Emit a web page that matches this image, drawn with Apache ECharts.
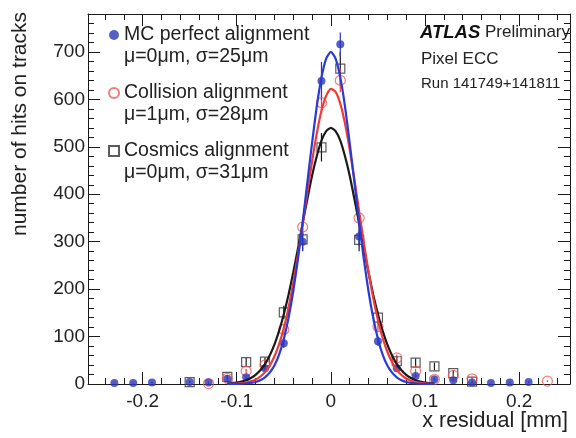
<!DOCTYPE html>
<html>
<head>
<meta charset="utf-8">
<script src="https://cdn.jsdelivr.net/npm/echarts@6/dist/echarts.min.js"></script>
<style>
html, body { margin: 0; padding: 0; background: #fff; }
#chart { width: 576px; height: 438px; }
</style>
</head>
<body>
<div id="chart"></div>
<script>
// histogram bin centres [mm]
var binCenters = [-0.23, -0.21, -0.19, -0.17, -0.15, -0.13, -0.11, -0.09, -0.07, -0.05, -0.03, -0.01,
                  0.01, 0.03, 0.05, 0.07, 0.09, 0.11, 0.13, 0.15, 0.17, 0.19, 0.21, 0.23];

// MC perfect alignment
var mcVals = [2, 2, 3, null, 4, 3, 11, 14, 33, 86, 300, 639, 716, 311, 90, 33, 17, 10, 8, 3, 2, 3, 4, null];
var mcErr  = [1, 1, 2, null, 2, 2, 4, 4, 6, 10, 20, 40, 25, 20, 10, 6, 4, 3, 3, 2, 1, 2, 2, null];
// Collision alignment
var collVals = [null, null, null, null, null, 1, 12, 27, 40, 115, 331, 593, 640, 350, 121, 55, 27, 10, 18, 11, null, null, null, 6];
var collErr  = [null, null, null, null, null, 1, 4, 5, 6, 11, 18, 24, 25, 19, 11, 7, 5, 3, 4, 3, null, null, null, 2];
// Cosmics alignment
var cosmVals = [null, null, null, null, 4, null, 15, 46, 47, 151, 305, 499, 665, 304, 140, 48, 45, 37, 23, 5, null, null, null, null];
var cosmErr  = [null, null, null, null, 2, null, 4, 9, 9, 14, 24, 30, 35, 24, 13, 9, 9, 8, 6, 2, null, null, null, null];

// gaussian fit curves
var curveX = [-0.11, -0.105, -0.1, -0.095, -0.09, -0.085, -0.08, -0.075, -0.07, -0.065, -0.06, -0.055,
              -0.05, -0.045, -0.04, -0.035, -0.03, -0.025, -0.02, -0.015, -0.01, -0.005, 0,
              0.005, 0.01, 0.015, 0.02, 0.025, 0.03, 0.035, 0.04, 0.045, 0.05, 0.055, 0.06,
              0.065, 0.07, 0.075, 0.08, 0.085, 0.09, 0.095, 0.1, 0.105, 0.11];
var mcFit = [0.04, 0.1, 0.2, 0.5, 1.1, 2.2, 4.2, 7.8, 14, 24, 39, 62, 95, 139, 195, 263, 341, 425, 508, 585, 646, 686, 700,
             686, 646, 585, 508, 425, 341, 263, 195, 139, 95, 62, 39, 24, 14, 7.8, 4.2, 2.2, 1.1, 0.5, 0.2, 0.1, 0.04];
var collFit = [0.24, 0.48, 0.93, 1.7, 3.2, 5.6, 9.5, 15.6, 25, 38.7, 58, 84, 118, 161, 213, 272, 337, 404, 469, 528, 576, 608, 622,
               616, 591, 549, 494, 431, 364, 298, 236, 181, 135, 97, 68, 46, 30, 19, 11.6, 6.9, 4.0, 2.2, 1.2, 0.63, 0.32];
var cosmFit = [1.0, 1.7, 3.0, 4.9, 8.0, 12.6, 19.3, 29, 42, 60, 83, 112, 147, 188, 235, 285, 338, 390, 439, 480, 513, 533, 540,
               533, 513, 480, 439, 390, 338, 285, 235, 188, 147, 112, 83, 60, 42, 29, 19.3, 12.6, 8.0, 4.9, 3.0, 1.7, 1.0];

// tick values
var xMajor = [-0.2, -0.1, 0, 0.1, 0.2];
var yMajor = [0, 100, 200, 300, 400, 500, 600, 700];
var xMinor = [];
for (var i = -13; i <= 12; i++) xMinor.push(Math.round(i * 2) / 100);
var yMinor = [];
for (var j = 0; j <= 39; j++) yMinor.push(j * 20);

var FONT = 'Liberation Sans, Arial, sans-serif';
var BLUE = '#2a37b8';
var RED = '#f03a3a';
var BLACK = '#1a1a1a';

function points(vals, errs) {
    var out = [];
    binCenters.forEach(function (x, i) {
        if (vals[i] != null) out.push([x, vals[i], errs[i]]);
    });
    return out;
}
function curve(vals) {
    return curveX.map(function (x, i) { return [x, vals[i]]; });
}

function errorBar(color) {
    return function (params, api) {
        var x = api.value(0), y = api.value(1), e = api.value(2);
        var p1 = api.coord([x, y + e]);
        var p2 = api.coord([x, Math.max(y - e, 0)]);
        return {
            type: 'line',
            shape: { x1: p1[0], y1: p1[1], x2: p2[0], y2: p2[1] },
            style: { stroke: color, lineWidth: 1.2 }
        };
    };
}

var dom = document.getElementById('chart');
var myChart = echarts.init(dom, null, { renderer: 'canvas' });

var gridBox = { left: 88, right: 6, top: 14, bottom: 54 };
var X_MIN = -0.258, X_MAX = 0.254, Y_MIN = 0, Y_MAX = 780;

function xAx(grid, pos, ticks, len, line, labels) {
    return {
        type: 'value', gridIndex: grid, position: pos, min: X_MIN, max: X_MAX,
        axisLine: { show: line, onZero: false, lineStyle: { color: BLACK, width: 1 } },
        axisTick: { show: true, inside: true, length: len, customValues: ticks, lineStyle: { color: BLACK, width: 1 } },
        axisLabel: { show: labels, customValues: xMajor, color: '#222', fontSize: 19, fontFamily: FONT, margin: 8 },
        splitLine: { show: false }
    };
}
function yAx(grid, pos, ticks, len, line, labels) {
    return {
        type: 'value', gridIndex: grid, position: pos, min: Y_MIN, max: Y_MAX,
        axisLine: { show: line, onZero: false, lineStyle: { color: BLACK, width: 1 } },
        axisTick: { show: true, inside: true, length: len, customValues: ticks, lineStyle: { color: BLACK, width: 1 } },
        axisLabel: { show: labels, customValues: yMajor, color: '#222', fontSize: 19, fontFamily: FONT, margin: 3 },
        splitLine: { show: false }
    };
}

var option = {
    animation: false,
    backgroundColor: '#fff',
    grid: [gridBox, gridBox],
    xAxis: [
        xAx(0, 'bottom', xMajor, 12, true, true),
        xAx(0, 'top', xMajor, 12, true, false),
        xAx(1, 'bottom', xMinor, 6, false, false),
        xAx(1, 'top', xMinor, 6, false, false)
    ],
    yAxis: [
        yAx(0, 'left', yMajor, 12, true, true),
        yAx(0, 'right', yMajor, 12, true, false),
        yAx(1, 'left', yMinor, 6, false, false),
        yAx(1, 'right', yMinor, 6, false, false)
    ],
    legend: {
        orient: 'vertical',
        left: 103,
        top: 20,
        itemWidth: 10,
        itemHeight: 10,
        itemGap: 38,
        selectedMode: false,
        textStyle: { fontSize: 19.5, color: '#222', fontFamily: FONT },
        data: ['MC perfect alignment', 'Collision alignment', 'Cosmics alignment']
    },
    graphic: [
        { type: 'text', x: 20, y: 124, rotation: Math.PI / 2,
          style: { text: 'number of hits on tracks', fill: '#222', font: '21px ' + FONT, align: 'center', verticalAlign: 'middle' } },
        { type: 'text', right: 8, top: 410,
          style: { text: 'x residual [mm]', fill: '#222', font: '21.5px ' + FONT } },
        { type: 'text', left: 124, top: 47,
          style: { text: 'μ=0μm, σ=25μm', fill: '#222', font: '19.5px ' + FONT } },
        { type: 'text', left: 124, top: 105,
          style: { text: 'μ=1μm, σ=28μm', fill: '#222', font: '19.5px ' + FONT } },
        { type: 'text', left: 124, top: 163,
          style: { text: 'μ=0μm, σ=31μm', fill: '#222', font: '19.5px ' + FONT } },
        { type: 'text', left: 420, top: 23,
          style: { text: '{b|ATLAS} Preliminary', fill: '#222', font: '17px ' + FONT,
                   rich: { b: { fontWeight: 'bold', fontStyle: 'italic', fontSize: 18.5, fontFamily: FONT, fill: '#111' } } } },
        { type: 'text', left: 421, top: 51,
          style: { text: 'Pixel ECC', fill: '#222', font: '17px ' + FONT } },
        { type: 'text', left: 421, top: 76,
          style: { text: 'Run 141749+141811', fill: '#222', font: '15px ' + FONT } }
    ],
    series: [
        { type: 'custom', xAxisIndex: 0, yAxisIndex: 0, renderItem: errorBar(BLACK), data: points(cosmVals, cosmErr), z: 2 },
        { type: 'custom', xAxisIndex: 0, yAxisIndex: 0, renderItem: errorBar(RED), data: points(collVals, collErr), z: 2 },
        { type: 'custom', xAxisIndex: 0, yAxisIndex: 0, renderItem: errorBar(BLUE), data: points(mcVals, mcErr), z: 2 },
        {
            name: 'Cosmics alignment', type: 'scatter', xAxisIndex: 0, yAxisIndex: 0,
            symbol: 'rect', symbolSize: 9,
            itemStyle: { color: 'rgba(255,255,255,0)', borderColor: '#333', borderWidth: 1.2 },
            data: points(cosmVals, cosmErr), z: 3
        },
        {
            name: 'Collision alignment', type: 'scatter', xAxisIndex: 0, yAxisIndex: 0,
            symbol: 'circle', symbolSize: 10,
            itemStyle: { color: 'rgba(255,255,255,0)', borderColor: '#f25a5a', borderWidth: 1.2 },
            data: points(collVals, collErr), z: 3
        },
        {
            name: 'MC perfect alignment', type: 'scatter', xAxisIndex: 0, yAxisIndex: 0,
            symbol: 'circle', symbolSize: 8,
            itemStyle: { color: BLUE },
            data: points(mcVals, mcErr), z: 3
        },
        { type: 'line', xAxisIndex: 0, yAxisIndex: 0, data: curve(cosmFit), showSymbol: false, smooth: 0.2,
          lineStyle: { color: BLACK, width: 2.2 }, z: 4 },
        { type: 'line', xAxisIndex: 0, yAxisIndex: 0, data: curve(collFit), showSymbol: false, smooth: 0.2,
          lineStyle: { color: RED, width: 2.2 }, z: 4 },
        { type: 'line', xAxisIndex: 0, yAxisIndex: 0, data: curve(mcFit), showSymbol: false, smooth: 0.2,
          lineStyle: { color: '#2a3ad6', width: 2.2 }, z: 4 }
    ]
};

myChart.setOption(option);
</script>
</body>
</html>
